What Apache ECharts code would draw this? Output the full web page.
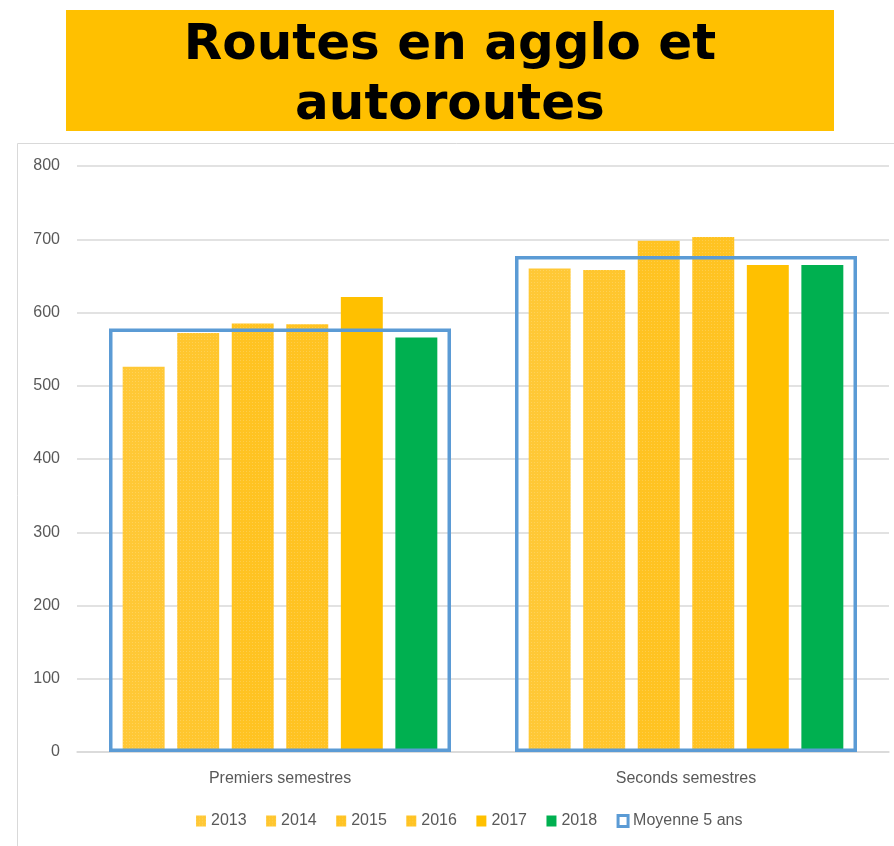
<!DOCTYPE html>
<html>
<head>
<meta charset="utf-8">
<script src="https://cdn.jsdelivr.net/npm/echarts@6/dist/echarts.min.js"></script>
<style>
  html, body { margin: 0; padding: 0; background: #fff; }
  #chart { width: 894px; height: 846px; }
</style>
</head>
<body>
<div id="chart"></div>
<script>
const categories = ['Premiers semestres', 'Seconds semestres'];
const years = ['2013', '2014', '2015', '2016', '2017', '2018'];
const v2013 = [526, 660];
const v2014 = [572, 658];
const v2015 = [585, 698];
const v2016 = [584, 703];
const v2017 = [621, 665];
const v2018 = [566, 665];
const moyenne = [578, 677];
const yTicks = [0, 100, 200, 300, 400, 500, 600, 700, 800];

const yearValues = [v2013, v2014, v2015, v2016, v2017, v2018];
const yearColors = ['#FFC836', '#FFC62E', '#FFC322', '#FFC322', '#FFC000', '#00B050'];
const patterned = [true, true, true, true, false, false];

const chart = echarts.init(document.getElementById('chart'), null, { renderer: 'canvas' });

const series = years.map((y, i) => ({
  name: y,
  type: 'bar',
  xAxisIndex: 0,
  data: yearValues[i],
  barGap: '30%',
  barCategoryGap: '22.5%',
  itemStyle: Object.assign({ color: yearColors[i] },
    patterned[i] ? {
      decal: {
        symbol: 'rect',
        symbolSize: 1,
        dashArrayX: [1, 2],
        dashArrayY: [1, 2],
        color: 'rgba(255,255,255,0.18)'
      }
    } : {}),
  z: 2
}));

series.push({
  name: 'Moyenne 5 ans',
  type: 'bar',
  xAxisIndex: 1,
  data: moyenne,
  barWidth: 342,
  itemStyle: { color: 'rgba(0,0,0,0)', borderColor: '#5B9BD5', borderWidth: 3.5 },
  z: 5
});

const legendData = years.map((y, i) => ({ name: y, itemStyle: { color: yearColors[i], borderWidth: 0 } }));
legendData.push({ name: 'Moyenne 5 ans', itemStyle: { color: '#ffffff', borderColor: '#5B9BD5', borderWidth: 3 } });

chart.setOption({
  animation: false,
  textStyle: { fontFamily: 'Liberation Sans, Arial, sans-serif' },
  graphic: [
    { type: 'rect', shape: { x: 17.5, y: 143.5, width: 900, height: 800 },
      style: { fill: 'none', stroke: '#D9D9D9', lineWidth: 1 }, z: -1 },
    { type: 'rect', shape: { x: 66, y: 10, width: 768, height: 121 },
      style: { fill: '#FFC000' } },
    { type: 'text', x: 450, y: 71, style: { text: 'Routes en agglo et', font: 'bold 50px "DejaVu Sans"', fill: '#000', textAlign: 'center', textVerticalAlign: 'bottom' } },
    { type: 'text', x: 450, y: 131, style: { text: 'autoroutes', font: 'bold 50px "DejaVu Sans"', fill: '#000', textAlign: 'center', textVerticalAlign: 'bottom' } }
  ],
  grid: { left: 77, right: 5, top: 166, bottom: 94, containLabel: false },
  legend: {
    data: legendData,
    left: 191,
    top: 808,
    icon: 'rect',
    itemWidth: 10,
    itemHeight: 11,
    itemGap: 19.5,
    textStyle: { fontSize: 16, color: '#595959', fontFamily: 'Liberation Sans, Arial, sans-serif' }
  },
  xAxis: [
    {
      type: 'category',
      data: categories,
      axisLine: { show: true, lineStyle: { color: '#D9D9D9', width: 1.5 } },
      axisTick: { show: false },
      axisLabel: { fontSize: 16, color: '#595959', margin: 19 },
      splitLine: { show: false }
    },
    {
      type: 'category',
      data: categories,
      show: false
    }
  ],
  yAxis: {
    type: 'value',
    min: yTicks[0],
    max: yTicks[yTicks.length - 1],
    interval: 100,
    axisLine: { show: false },
    axisTick: { show: false },
    axisLabel: { fontSize: 16, color: '#595959', margin: 17 },
    splitLine: { lineStyle: { color: '#D9D9D9', width: 1.5 } }
  },
  series: series
});
</script>
</body>
</html>
